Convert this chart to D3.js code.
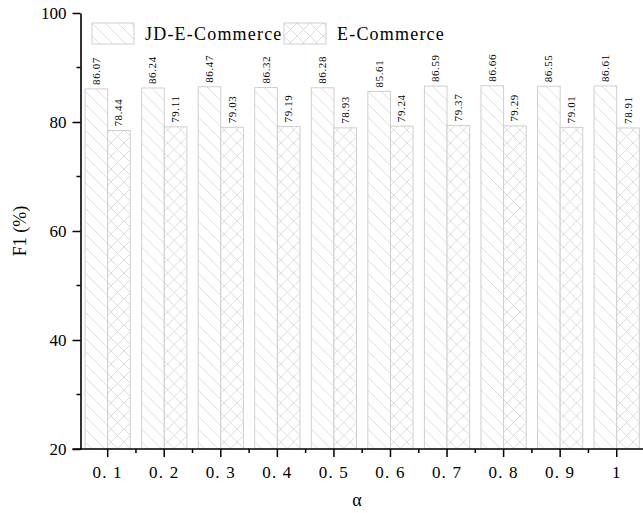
<!DOCTYPE html>
<html>
<head>
<meta charset="utf-8">
<script src="https://cdn.jsdelivr.net/npm/d3@7"></script>
<style>
  body { margin: 0; background: #fff; }
  svg { display: block; font-family: 'Liberation Serif', 'DejaVu Serif', serif; }
</style>
</head>
<body>
<div id="svg-container"></div>
<script>
// data
const alphas = ['0. 1', '0. 2', '0. 3', '0. 4', '0. 5', '0. 6', '0. 7', '0. 8', '0. 9', '1']
const seriesNames = ['JD-E-Commerce', 'E-Commerce']
const jdValues = [86.07, 86.24, 86.47, 86.32, 86.28, 85.61, 86.59, 86.66, 86.55, 86.61]
const ecValues = [78.44, 79.11, 79.03, 79.19, 78.93, 79.24, 79.37, 79.29, 79.01, 78.91]
const yTicks = [20, 40, 60, 80, 100]

;(function () {
  const svgWidth = 643
  const svgHeight = 513

  const marginLeft = 80.5
  const marginTop = 13
  const plotBottom = 449
  const plotRight = 645

  const svg = d3
    .select('#svg-container')
    .append('svg')
    .attr('width', svgWidth)
    .attr('height', svgHeight)

  const defs = svg.append('defs')
  const lineColor = '#d4d4d4'

  // hatch patterns
  const diag = defs
    .append('pattern')
    .attr('id', 'hatch-diag')
    .attr('patternUnits', 'userSpaceOnUse')
    .attr('width', 13)
    .attr('height', 13)
  diag.append('rect').attr('width', 13).attr('height', 13).attr('fill', '#fff')
  diag
    .append('path')
    .attr('d', 'M0,0 L13,13 M-1,12 L1,14 M12,-1 L14,1')
    .attr('stroke', lineColor)
    .attr('stroke-width', 0.8)

  const cross = defs
    .append('pattern')
    .attr('id', 'hatch-cross')
    .attr('patternUnits', 'userSpaceOnUse')
    .attr('width', 13)
    .attr('height', 13)
  cross.append('rect').attr('width', 13).attr('height', 13).attr('fill', '#fff')
  cross
    .append('path')
    .attr('d', 'M0,0 L13,13 M0,13 L13,0 M-1,12 L1,14 M12,-1 L14,1 M-1,1 L1,-1 M12,14 L14,12')
    .attr('stroke', lineColor)
    .attr('stroke-width', 0.8)

  const fills = ['url(#hatch-diag)', 'url(#hatch-cross)']

  const x = d3
    .scaleBand()
    .domain(alphas)
    .range([79.4, 79.4 + 56.56 * alphas.length])
    .paddingInner(0.2)
    .paddingOuter(0.1)

  const xSub = d3
    .scaleBand()
    .domain(seriesNames)
    .range([0, x.bandwidth()])

  const y = d3.scaleLinear().domain([20, 100]).range([plotBottom, marginTop])

  const rows = alphas.map((a, i) => ({ a, values: [jdValues[i], ecValues[i]] }))

  const groups = svg
    .append('g')
    .selectAll('g')
    .data(rows)
    .join('g')
    .attr('transform', d => `translate(${x(d.a)},0)`)

  groups
    .selectAll('rect')
    .data(d => d.values.map((v, k) => ({ k, v })))
    .join('rect')
    .attr('x', d => xSub(seriesNames[d.k]))
    .attr('y', d => y(d.v))
    .attr('width', xSub.bandwidth())
    .attr('height', d => plotBottom - y(d.v))
    .attr('fill', d => fills[d.k])
    .attr('stroke', '#cfcfcf')
    .attr('stroke-width', 1)

  groups
    .selectAll('text')
    .data(d => d.values.map((v, k) => ({ k, v })))
    .join('text')
    .attr(
      'transform',
      d =>
        `translate(${xSub(seriesNames[d.k]) + xSub.bandwidth() / 2 + 3.5},${y(d.v) - 4}) rotate(-90)`,
    )
    .attr('font-size', 11)
    .attr('letter-spacing', 0.6)
    .attr('fill', '#000')
    .text(d => d.v.toFixed(2))

  // y axis
  const yAxis = d3
    .axisLeft(y)
    .tickValues(yTicks)
    .tickSize(8)
    .tickPadding(6)
    .tickSizeOuter(0)
  const yG = svg
    .append('g')
    .attr('transform', `translate(${marginLeft},0)`)
    .call(yAxis)
  yG.select('.domain').attr('stroke', '#000').attr('stroke-width', 1.6)
  yG.selectAll('.tick line').attr('stroke', '#000').attr('stroke-width', 1.5)
  yG.selectAll('.tick text')
    .attr('font-size', 17)
    .attr('font-family', "'Liberation Serif', serif")
    .attr('fill', '#000')
  yG.selectAll('.minor')
    .data([30, 50, 70, 90])
    .join('line')
    .attr('class', 'minor')
    .attr('x1', -4)
    .attr('x2', 0)
    .attr('y1', d => y(d))
    .attr('y2', d => y(d))
    .attr('stroke', '#000')
    .attr('stroke-width', 1.5)

  // x axis
  const xAxis = d3.axisBottom(x).tickSize(8).tickPadding(9).tickSizeOuter(0)
  const xG = svg
    .append('g')
    .attr('transform', `translate(0,${plotBottom})`)
    .call(xAxis)
  xG.select('.domain')
    .attr('d', `M${marginLeft - 8},0H${plotRight}`)
    .attr('stroke', '#000')
    .attr('stroke-width', 1.6)
  xG.selectAll('.tick line').attr('stroke', '#000').attr('stroke-width', 1.5)
  xG.selectAll('.tick text')
    .attr('font-size', 17)
    .attr('letter-spacing', 1.2)
    .attr('font-family', "'Liberation Serif', serif")
    .attr('fill', '#000')
  xG.selectAll('.minor')
    .data(alphas.slice(1))
    .join('line')
    .attr('class', 'minor')
    .attr('x1', d => x(d) - (x.step() - x.bandwidth()) / 2)
    .attr('x2', d => x(d) - (x.step() - x.bandwidth()) / 2)
    .attr('y1', 0)
    .attr('y2', 4)
    .attr('stroke', '#000')
    .attr('stroke-width', 1.5)

  // axis titles
  svg
    .append('text')
    .attr('transform', `translate(26,${(marginTop + plotBottom) / 2}) rotate(-90)`)
    .attr('text-anchor', 'middle')
    .attr('font-size', 18)
    .text('F1 (%)')

  svg
    .append('text')
    .attr('x', 357)
    .attr('y', 506)
    .attr('text-anchor', 'middle')
    .attr('font-size', 18)
    .text('α')

  // legend
  const legendItems = [
    { name: seriesNames[0], x: 92 },
    { name: seriesNames[1], x: 284 },
  ]
  const legend = svg
    .append('g')
    .selectAll('g')
    .data(legendItems)
    .join('g')
    .attr('transform', d => `translate(${d.x},23)`)
  legend
    .append('rect')
    .attr('width', 42)
    .attr('height', 21)
    .attr('fill', (d, i) => fills[i])
    .attr('stroke', '#cfcfcf')
  legend
    .append('text')
    .attr('x', 53)
    .attr('y', 17)
    .attr('font-size', 18)
    .attr('letter-spacing', 1.2)
    .text(d => d.name)
})()
</script>
</body>
</html>
